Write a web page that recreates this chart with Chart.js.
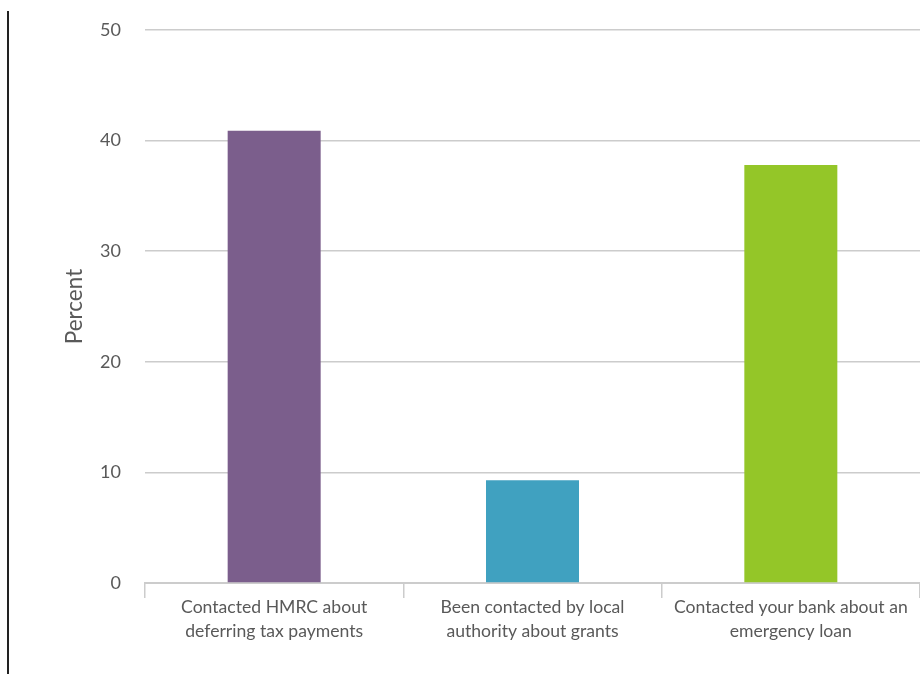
<!DOCTYPE html>
<html>
<head>
<meta charset="utf-8">
<script src="https://cdn.jsdelivr.net/npm/chart.js@4"></script>
<style>
  html, body { margin: 0; padding: 0; background: #fff; }
  #wrap { position: relative; width: 920px; height: 675px; }
  #leftline { position: absolute; left: 7px; top: 11px; width: 2px; height: 663px; background: #222; }
  canvas { position: absolute; left: 0; top: 0; }
</style>
</head>
<body>
<div id="wrap">
  <canvas id="c" width="920" height="675"></canvas>
  <div id="leftline"></div>
</div>
<script>
const categories = [
  ["Contacted HMRC about", "deferring tax payments"],
  ["Been contacted by local", "authority about grants"],
  ["Contacted your bank about an", "emergency loan"]
];
const values = [40.9, 9.3, 37.8];
const barColors = ["#7b5e8c", "#40a1c0", "#94c628"];
const yTicks = [0, 10, 20, 30, 40, 50];
const yTitle = "Percent";

const textColor = "#595959";
const gridColor = "#cccccc";

new Chart(document.getElementById("c"), {
  type: "bar",
  data: {
    labels: categories,
    datasets: [{
      data: values,
      backgroundColor: barColors,
      borderWidth: 0,
      categoryPercentage: 1.0,
      barPercentage: 0.36
    }]
  },
  options: {
    responsive: false,
    animation: false,
    devicePixelRatio: 1,
    layout: { padding: { left: 55, right: 0, top: 30, bottom: 35 } },
    plugins: {
      legend: { display: false },
      tooltip: { enabled: false }
    },
    scales: {
      x: {
        offset: true,
        grid: {
          offset: true,
          drawOnChartArea: false,
          drawTicks: true,
          tickLength: 15,
          color: gridColor,
          lineWidth: 1.5
        },
        border: { display: true, color: gridColor, width: 2 },
        ticks: {
          color: textColor,
          font: { family: "Lato", size: 17.6, lineHeight: 1.364 },
          padding: -3,
          maxRotation: 0,
          autoSkip: false
        }
      },
      y: {
        min: 0,
        max: 50,
        afterBuildTicks: (scale) => { scale.ticks = yTicks.map(v => ({ value: v })); },
        afterFit: (scale) => { scale.width = 90; scale.paddingTop = 0; scale.paddingBottom = 0; },
        grid: {
          drawTicks: false,
          color: gridColor,
          lineWidth: 1.5
        },
        border: { display: false },
        ticks: {
          color: textColor,
          font: { family: "Lato", size: 18 },
          padding: 24
        },
        title: {
          display: true,
          text: yTitle,
          color: textColor,
          font: { family: "Lato", size: 22.5 },
          padding: { top: 6, bottom: 0 }
        }
      }
    }
  }
});
</script>
</body>
</html>
